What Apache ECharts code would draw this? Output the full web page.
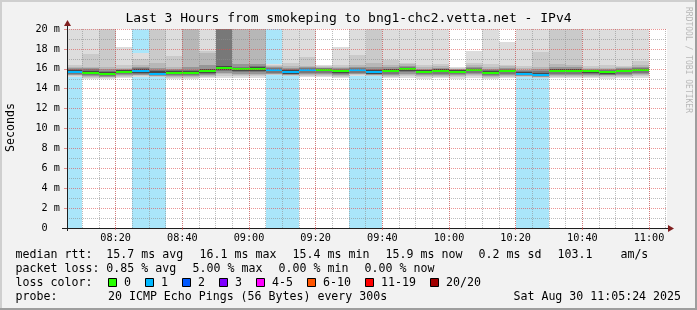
<!DOCTYPE html>
<html><head><meta charset="utf-8">
<script src="https://cdn.jsdelivr.net/npm/echarts@6/dist/echarts.min.js"></script>
<style>html,body{margin:0;padding:0;background:#f2f2f2}#c{width:697px;height:310px}</style>
</head><body><div id="c"></div>
<script>
// ================= DATA =================
const titleText = 'Last 3 Hours from smokeping to bng1-chc2.vetta.net - IPv4';
const viewStartStr = '08:05:24';
const viewHours = 3;
// 5-minute RRD steps (start of each step)
const colStart = ['08:05','08:10','08:15','08:20','08:25','08:30','08:35','08:40','08:45','08:50','08:55','09:00','09:05','09:10','09:15','09:20','09:25','09:30','09:35','09:40','09:45','09:50','09:55','10:00','10:05','10:10','10:15','10:20','10:25','10:30','10:35','10:40','10:45','10:50','10:55'];
// median rtt (ms)
const median = [15.7,15.6,15.45,15.7,15.8,15.5,15.6,15.6,15.75,16.1,15.95,16.0,15.9,15.65,15.9,15.9,15.75,15.9,15.65,15.8,16.0,15.7,15.8,15.7,15.9,15.6,15.8,15.5,15.4,15.8,15.8,15.75,15.65,15.8,15.9];
// lost pings per step (median line colour)
const lossPings = [1,0,0,0,1,1,0,0,0,0,0,0,1,1,1,0,0,1,1,0,0,0,0,0,0,0,0,1,1,0,0,0,0,0,0];
// loss background shading per step
const lossShade = [1,0,0,0,1,1,0,0,0,0,0,0,1,1,0,0,0,1,1,0,0,0,0,0,0,0,0,1,1,0,0,0,0,0,0];
// smoke: upper ping percentiles (outer -> inner), ms
const smokeHi1 = [24,24,24,18.2,17.6,24,24,24,24,24,24,24,16.45,24,24,16.4,18.2,24,24,24,24,24,24,16.2,17.8,24,18.7,24,24,24,24,24,24,24,24];
const smokeHi2 = [16.4,17.5,24,16.4,17.0,24,17.3,24,17.75,24,24,24,16.35,16.55,17.2,16.3,16.4,17.4,24,16.9,16.6,16.4,16.45,16.1,16.55,16.5,16.4,16.3,17.7,24,24,16.3,16.4,16.3,16.8];
const smokeHi3 = [16.2,16.2,16.2,16.1,16.4,16.6,16.2,24,17.6,24,24,24,16.25,16.3,16.3,16.2,16.2,16.4,16.55,16.4,16.45,16.2,16.3,16.0,16.35,16.2,16.25,16.05,16.2,16.5,16.4,16.1,16.1,16.15,16.4];
const smokeHi4 = [16.05,16.1,15.95,16.0,16.15,16.1,16.0,16.2,16.4,24,16.5,16.5,16.15,16.1,16.15,16.1,16.05,16.2,16.2,16.15,16.3,16.0,16.1,15.95,16.2,16.0,16.1,15.9,15.95,16.15,16.15,16.0,15.95,16.05,16.2];
const smokeHi5 = [15.95,15.95,15.8,15.9,16.05,15.9,15.85,15.9,16.0,24,16.2,16.25,16.05,15.95,16.05,16.05,15.95,16.1,15.95,16.0,16.2,15.9,16.0,15.9,16.1,15.85,16.0,15.75,15.75,16.0,16.0,15.9,15.85,15.95,16.1];
const smokeHi6 = [15.85,15.8,15.7,15.85,15.95,15.75,15.75,15.8,15.95,16.3,16.1,16.15,16.0,15.85,16.0,16.0,15.9,16.0,15.85,15.95,16.1,15.85,15.95,15.85,16.0,15.75,15.9,15.65,15.6,15.95,15.95,15.85,15.8,15.9,16.0];
// smoke: lower ping percentiles (outer -> inner), ms
const smokeLo1 = [15.2,15.0,15.0,15.05,15.2,15.15,15.0,15.0,15.05,15.1,15.1,15.1,15.35,15.25,15.15,15.15,15.05,15.3,15.3,15.05,15.1,15.0,15.05,15.0,15.1,15.0,15.05,15.15,15.05,15.05,15.05,15.05,15.0,15.05,15.1];
const smokeLo2 = [15.3,15.1,15.1,15.2,15.3,15.2,15.1,15.1,15.2,15.3,15.3,15.3,15.4,15.3,15.3,15.3,15.2,15.4,15.3,15.2,15.3,15.15,15.2,15.15,15.3,15.1,15.2,15.2,15.1,15.2,15.2,15.2,15.15,15.2,15.3];
const smokeLo3 = [15.35,15.2,15.15,15.3,15.35,15.25,15.2,15.2,15.3,15.45,15.4,15.4,15.45,15.35,15.4,15.4,15.3,15.45,15.35,15.3,15.4,15.25,15.3,15.25,15.4,15.2,15.3,15.25,15.15,15.3,15.3,15.3,15.25,15.3,15.4];
const smokeLo4 = [15.4,15.3,15.2,15.35,15.4,15.3,15.3,15.3,15.4,15.6,15.5,15.5,15.5,15.4,15.5,15.5,15.4,15.5,15.4,15.4,15.5,15.35,15.4,15.35,15.5,15.3,15.4,15.3,15.2,15.4,15.4,15.4,15.35,15.4,15.5];
const smokeLo5 = [15.45,15.35,15.3,15.45,15.5,15.35,15.35,15.35,15.5,15.75,15.65,15.65,15.6,15.45,15.6,15.6,15.5,15.6,15.45,15.5,15.65,15.45,15.5,15.45,15.6,15.35,15.5,15.35,15.25,15.5,15.5,15.5,15.4,15.5,15.6];
const smokeLo6 = [15.55,15.45,15.35,15.55,15.6,15.4,15.45,15.45,15.6,15.9,15.8,15.8,15.75,15.5,15.75,15.75,15.6,15.75,15.5,15.65,15.8,15.55,15.65,15.55,15.75,15.45,15.65,15.4,15.3,15.65,15.65,15.6,15.5,15.65,15.75];
// y axis
const yMin = 0, yMax = 20, yStep = 2;
// legend values
const rttStats = [15.7, 16.1, 15.4, 15.9];
const rttStatNames = ['avg','max','min','now'];
const rttSd = 0.2;
const amPerSec = 103.1;
const lossStats = [0.85, 5.00, 0.00, 0.00];
const lossLabels = ['0','1','2','3','4-5','6-10','11-19','20/20'];
const lossUpper  = [0, 1, 2, 3, 5, 10, 19, 20];
const probeText = '20 ICMP Echo Pings (56 Bytes) every 300s';
const stampText = 'Sat Aug 30 11:05:24 2025';

// ================= STYLE =================
const lossColors = ['#26ff00','#00b8ff','#0059ff','#7e00ff','#ff00ff','#ff5500','#ff0000','#a10000'];
const smokeShades = ['#dddddd','#cacaca','#b7b7b7','#969696','#787878','#484848'];
const LOSS_BG = '#aae6fa';
const MONO = '"DejaVu Sans Mono", monospace';
const GL = 67, GR = 667, GT = 29, GB = 228, W = 697, H = 310;
const MGRID = 'rgba(222,79,79,0.6)';
const GRID = 'rgba(143,143,143,0.6)';
const ARROW = '#801f1f';
const AXIS = '#1f1f1f';

// ================= BUILD =================
// x values are minutes since midnight
const M = (hms) => { const p = hms.split(':').map(Number); return p[0]*60 + p[1] + (p[2]||0)/60; };
const STEP = 5;
const viewStart = M(viewStartStr), viewEnd = viewStart + viewHours*60;
const highs = [smokeHi1, smokeHi2, smokeHi3, smokeHi4, smokeHi5, smokeHi6];
const lows  = [smokeLo1, smokeLo2, smokeLo3, smokeLo4, smokeLo5, smokeLo6];
const lossColorOf = n => { for (let k=0;k<lossUpper.length;k++) if (n<=lossUpper[k]) return lossColors[k]; return lossColors[lossColors.length-1]; };
const seriesData = colStart.map((s,i)=>[M(s), M(s)+STEP, i, median[i]]);
const hhmm = v => { const t = Math.round(v); const h = Math.floor(t/60), m = t%60; return String(h).padStart(2,'0')+':'+String(m).padStart(2,'0'); };

function renderItem(params, api){
  const i = api.value(2);
  const xa = Math.max(api.value(0), viewStart), xb = Math.min(api.value(1), viewEnd);
  const X0 = Math.round(api.coord([xa, 0])[0]), X1 = Math.round(api.coord([xb, 0])[0]);
  const yPix = v => Math.round(api.coord([xa, Math.min(Math.max(v, yMin), yMax)])[1]);
  const band = (lo, hi, fill) => ({type:'rect', shape:{x:X0, y:yPix(hi), width:X1-X0, height:yPix(lo)-yPix(hi)}, style:{fill}});
  const ch = [];
  if (lossShade[i]) ch.push(band(yMin, yMax, LOSS_BG));
  for (let L=0; L<highs.length; L++) ch.push(band(lows[L][i], highs[L][i], smokeShades[L]));
  const ym = Math.round(api.coord([xa, median[i]])[1]);
  ch.push({type:'rect', shape:{x:X0, y:ym-1, width:X1-X0, height:2}, style:{fill: lossColorOf(lossPings[i])}});
  return {type:'group', children: ch};
}

// legend graphics
const CW = 7, FS = 11.6;
const g = [];
const txt = (x,y,text,o={}) => ({type:'text', x, y, z:100, style:{text, fontFamily:MONO, fontSize:o.fs||FS, fill:o.fill||'#000', align:o.align||'left', verticalAlign:'middle'}, rotation:o.rot||0});
g.push({type:'rect', shape:{x:0,y:0,width:W,height:2}, style:{fill:'#cfcfcf'}, z:100});
g.push({type:'rect', shape:{x:0,y:0,width:2,height:H}, style:{fill:'#cfcfcf'}, z:100});
g.push({type:'rect', shape:{x:0,y:H-2,width:W,height:2}, style:{fill:'#9e9e9e'}, z:100});
g.push({type:'rect', shape:{x:W-2,y:0,width:2,height:H}, style:{fill:'#9e9e9e'}, z:100});
g.push(txt(W/2, 19, titleText, {fs:13, align:'center'}));
g.push(txt(10.5, 127.5, 'Seconds', {align:'center', rot:Math.PI/2}));
g.push(txt(688, 60, 'RRDTOOL / TOBI OETIKER', {fs:8, align:'center', rot:-Math.PI/2, fill:'#b8b8b8'}));
g.push({type:'line', shape:{x1:GL-5, y1:GB+0.5, x2:GL, y2:GB+0.5}, style:{stroke:AXIS, lineWidth:1}, z:100});
g.push({type:'line', shape:{x1:GL+0.5, y1:GB, x2:GL+0.5, y2:GB+3}, style:{stroke:AXIS, lineWidth:1}, z:100});
g.push({type:'line', shape:{x1:GL+0.5, y1:GT, x2:GL+0.5, y2:GT-4}, style:{stroke:AXIS, lineWidth:1}, z:100});
g.push({type:'line', shape:{x1:GR, y1:GB+0.5, x2:GR+2, y2:GB+0.5}, style:{stroke:AXIS, lineWidth:1}, z:100});
g.push({type:'polygon', shape:{points:[[GL-3,GT-3],[GL+4,GT-3],[GL+0.5,GT-9]]}, style:{fill:ARROW}, z:100});
g.push({type:'polygon', shape:{points:[[GR+1,GB-3],[GR+1,GB+4],[GR+7,GB+0.5]]}, style:{fill:ARROW}, z:100});
const fmt1 = v => v.toFixed(1), fmt2 = v => v.toFixed(2);
const row1 = ['median rtt:  ' + fmt1(rttStats[0]) + ' ms ' + rttStatNames[0]]
  .concat(rttStats.slice(1).map((v,k)=>fmt1(v)+' ms '+rttStatNames[k+1]))
  .concat([fmt1(rttSd)+' ms sd', fmt1(amPerSec)+'    am/s']);
const row2 = ['packet loss: ' + fmt2(lossStats[0]) + ' % ' + rttStatNames[0]]
  .concat(lossStats.slice(1).map((v,k)=>fmt2(v)+' % '+rttStatNames[k+1]));
function placeRow(items, y){ let x = 15.6; items.forEach(s=>{ g.push(txt(x, y, s)); x += s.length*CW + 16; }); }
placeRow(row1, 254.5);
placeRow(row2, 268.5);
g.push(txt(15.6, 282.5, 'loss color:'));
let bx = 108;
lossLabels.forEach((lab,k)=>{
  g.push({type:'rect', shape:{x:bx+0.5, y:278.5, width:8, height:8}, style:{fill:lossColors[k], stroke:'#000', lineWidth:1}, z:100});
  g.push(txt(bx+16, 282.5, lab));
  bx = bx + 16 + lab.length*CW + 14;
});
g.push(txt(15.6, 296.5, 'probe:'));
g.push(txt(108, 296.5, probeText));
g.push(txt(681, 296.5, stampText, {align:'right'}));

const chart = echarts.init(document.getElementById('c'), null, {renderer:'canvas'});
chart.setOption({
  backgroundColor:'#f2f2f2',
  animation:false,
  grid:{left:GL, right:W-GR, top:GT, bottom:H-GB, show:true, backgroundColor:'#ffffff', borderWidth:0, z:0},
  xAxis:[{
    type:'value', min:viewStart, max:viewEnd, z:5, splitNumber:10,
    minInterval:20, maxInterval:20,
    axisLine:{show:true, onZero:false, lineStyle:{color:AXIS, width:1}},
    axisTick:{show:true, length:2, lineStyle:{color:MGRID}},
    axisLabel:{formatter:hhmm, fontFamily:MONO, fontSize:10.2, color:'#000', margin:5, showMinLabel:false, showMaxLabel:false, hideOverlap:false},
    splitLine:{show:true, showMinLine:false, showMaxLine:false, lineStyle:{color:MGRID, width:1, type:[1,1]}}
  },{
    type:'value', min:viewStart, max:viewEnd, z:4, position:'bottom', splitNumber:36,
    minInterval:5, maxInterval:5,
    axisLine:{show:false}, axisTick:{show:false}, axisLabel:{show:false},
    splitLine:{show:true, showMinLine:false, showMaxLine:false, lineStyle:{color:GRID, width:1, type:[1,1]}}
  }],
  yAxis:{
    type:'value', min:yMin, max:yMax, interval:yStep, z:5,
    axisLine:{show:true, onZero:false, lineStyle:{color:AXIS, width:1}},
    axisTick:{show:true, length:3, lineStyle:{color:MGRID}},
    axisLabel:{formatter:v => v===0 ? '0  ' : v+' m', fontFamily:MONO, fontSize:10.2, color:'#000', margin:7},
    splitLine:{show:true, lineStyle:{color:MGRID, width:1, type:[1,1]}},
    minorTick:{show:false, splitNumber:2},
    minorSplitLine:{show:true, lineStyle:{color:GRID, width:1, type:[1,1]}}
  },
  series:[{
    type:'custom', z:1, xAxisIndex:0, yAxisIndex:0,
    renderItem, data: seriesData,
    encode:{x:[0,1], y:3}, silent:true
  }],
  graphic: g
});
</script></body></html>
